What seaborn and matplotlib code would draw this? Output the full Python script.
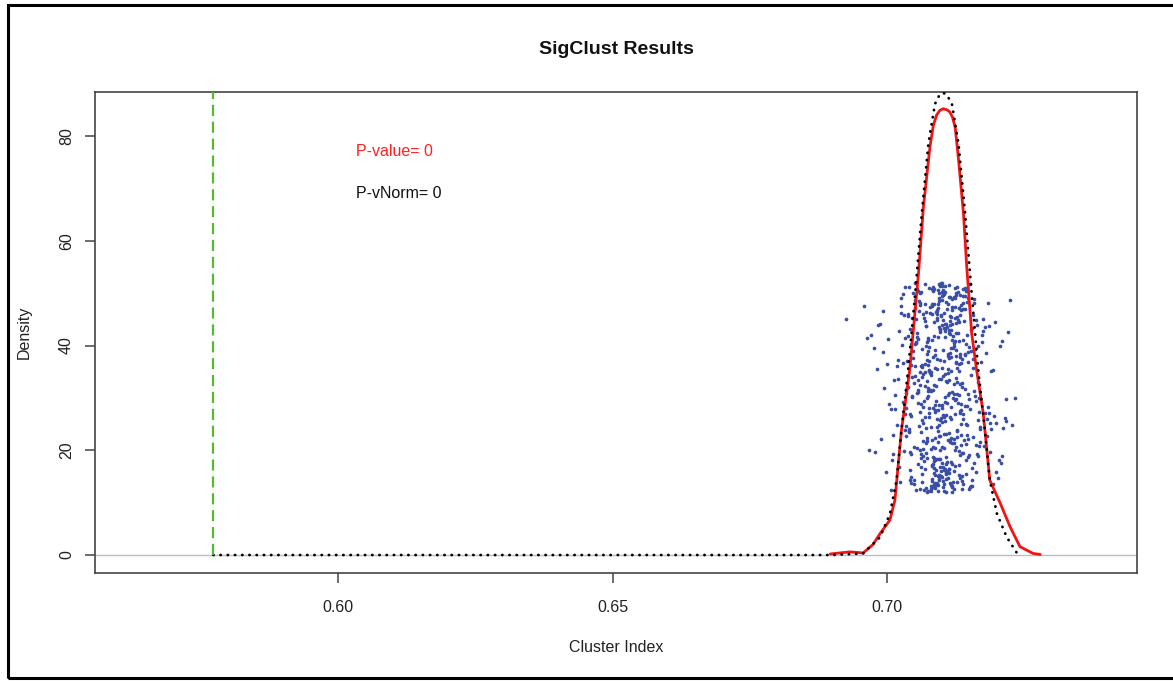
import matplotlib
matplotlib.use("Agg")
import matplotlib.pyplot as plt
from matplotlib.patches import Rectangle
import seaborn as sns
import numpy as np

# ---------------- data ----------------
observed_index = 0.5772

# simulated cluster indices (x) with vertical jitter (y)
sim_x = [
    0.7102, 0.7085, 0.7131, 0.7067, 0.7119, 0.7094, 0.7150, 0.7041, 0.7108, 0.7076, 0.7123, 0.7099, 0.7058, 0.7137, 0.7113, 0.7089, 0.7172, 0.7031, 0.7105, 0.7081,
    0.7127, 0.7063, 0.7096, 0.7144, 0.7072, 0.7110, 0.7049, 0.7118, 0.7091, 0.7160, 0.7084, 0.7036, 0.7106, 0.7129, 0.7070, 0.7099, 0.7193, 0.7053, 0.7115, 0.7088,
    0.7078, 0.7134, 0.7101, 0.7060, 0.7122, 0.7010, 0.7093, 0.7147, 0.7082, 0.7112, 0.7044, 0.7125, 0.7097, 0.7068, 0.7156, 0.7104, 0.7079, 0.7139, 0.6985, 0.7109,
    0.7090, 0.7120, 0.7055, 0.7100, 0.7141, 0.7074, 0.7116, 0.7027, 0.7095, 0.7132, 0.7086, 0.7166, 0.7061, 0.7107, 0.7083, 0.7126, 0.7047, 0.7098, 0.7211, 0.7073,
    0.7114, 0.7092, 0.7138, 0.7065, 0.7103, 0.7152, 0.7080, 0.7121, 0.7039, 0.7097, 0.7130, 0.7071, 0.7111, 0.7087, 0.7178, 0.7057, 0.7106, 0.7124, 0.7018, 0.7093,
    0.7117, 0.7077, 0.7143, 0.7100, 0.7064, 0.7128, 0.7089, 0.7161, 0.7050, 0.7112, 0.7096, 0.7135, 0.7069, 0.7104, 0.7186, 0.7084, 0.7122, 0.7043, 0.7101, 0.7145,
    0.7075, 0.7109, 0.7059, 0.7133, 0.7094, 0.7118, 0.7003, 0.7088, 0.7149, 0.7066, 0.7107, 0.7127, 0.7081, 0.7168, 0.7052, 0.7099, 0.7115, 0.7035, 0.7140, 0.7090,
    0.7123, 0.7072, 0.7103, 0.7157, 0.7062, 0.7111, 0.7085, 0.7136, 0.7046, 0.7097, 0.7203, 0.7078, 0.7119, 0.7092, 0.7131, 0.7056, 0.7108, 0.7025, 0.7082, 0.7146,
    0.7100, 0.7067, 0.7126, 0.7089, 0.7174, 0.7042, 0.7113, 0.7095, 0.7138, 0.7070, 0.7105, 0.7154, 0.7080, 0.7121, 0.6958, 0.7098, 0.7132, 0.7061, 0.7116, 0.7086,
    0.7142, 0.7054, 0.7102, 0.7125, 0.7076, 0.7191, 0.7093, 0.7110, 0.7038, 0.7129, 0.7083, 0.7148, 0.7064, 0.7106, 0.7119, 0.7012, 0.7091, 0.7135, 0.7073, 0.7163,
    0.7097, 0.7122, 0.7058, 0.7109, 0.7087, 0.7144, 0.7048, 0.7114, 0.7079, 0.7130, 0.7221, 0.7068, 0.7101, 0.7124, 0.7033, 0.7092, 0.7151, 0.7075, 0.7117, 0.7084,
    0.7108, 0.7139, 0.7063, 0.7096, 0.7170, 0.7051, 0.7120, 0.7090, 0.7133, 0.7071, 0.7104, 0.6994, 0.7081, 0.7127, 0.7060, 0.7112, 0.7158, 0.7086, 0.7099, 0.7045,
    0.7128, 0.7074, 0.7115, 0.7183, 0.7057, 0.7103, 0.7137, 0.7088, 0.7022, 0.7110, 0.7094, 0.7146, 0.7066, 0.7121, 0.7082, 0.7165, 0.7040, 0.7106, 0.7131, 0.7077,
    0.7093, 0.7118, 0.7053, 0.7140, 0.7085, 0.7102, 0.7199, 0.7069, 0.7125, 0.7096, 0.7030, 0.7113, 0.7079, 0.7153, 0.7061, 0.7107, 0.7134, 0.7089, 0.7008, 0.7116,
    0.7072, 0.7129, 0.7100, 0.7147, 0.7058, 0.7111, 0.7087, 0.7176, 0.7044, 0.7098, 0.7123, 0.7065, 0.7142, 0.7091, 0.7119, 0.7037, 0.7105, 0.7135, 0.7076, 0.7229,
    0.7114, 0.7083, 0.7136, 0.7055, 0.7101, 0.7159, 0.7073, 0.7120, 0.7095, 0.7028, 0.7132, 0.7080, 0.7109, 0.7187, 0.7062, 0.7097, 0.7126, 0.7049, 0.7143, 0.7090,
    0.7104, 0.7068, 0.7122, 0.6976, 0.7086, 0.7139, 0.7059, 0.7113, 0.7162, 0.7078, 0.7100, 0.7130, 0.7043, 0.7117, 0.7092, 0.7150, 0.7070, 0.7108, 0.7215, 0.7084,
    0.7124, 0.7063, 0.7096, 0.7145, 0.7052, 0.7110, 0.7088, 0.7134, 0.7015, 0.7103, 0.7169, 0.7075, 0.7119, 0.7099, 0.7057, 0.7128, 0.7082, 0.7155, 0.7034, 0.7106,
    0.6926, 0.7234, 0.6968, 0.7206, 0.6982, 0.7218, 0.6999, 0.7197, 0.7005, 0.7181, 0.6990, 0.7224, 0.7020, 0.7208, 0.6972, 0.7195, 0.7001, 0.7188, 0.6996, 0.7212,
    0.7098, 0.7121, 0.7066, 0.7135, 0.7087, 0.7109, 0.7048, 0.7127, 0.7093, 0.7156, 0.7074, 0.7115, 0.7082, 0.7140, 0.7060, 0.7103, 0.7131, 0.7039, 0.7118, 0.7091,
    0.7112, 0.7070, 0.7137, 0.7095, 0.7054, 0.7124, 0.7085, 0.7167, 0.7063, 0.7101, 0.7129, 0.7076, 0.7148, 0.7089, 0.7026, 0.7114, 0.7097, 0.7142, 0.7067, 0.7105,
    0.7081, 0.7133, 0.7058, 0.7119, 0.7092, 0.7152, 0.7046, 0.7107, 0.7126, 0.7073, 0.7100, 0.7179, 0.7064, 0.7116, 0.7088, 0.7138, 0.7051, 0.7110, 0.7094, 0.7123,
    0.7069, 0.7141, 0.7102, 0.7084, 0.7130, 0.7036, 0.7113, 0.7097, 0.7160, 0.7077, 0.7106, 0.7125, 0.7061, 0.7136, 0.7090, 0.7117, 0.7019, 0.7099, 0.7144, 0.7079,
    0.7120, 0.7086, 0.7149, 0.7056, 0.7108, 0.7132, 0.7071, 0.7115, 0.7093, 0.7173, 0.7045, 0.7103, 0.7128, 0.7082, 0.7139, 0.7065, 0.7111, 0.7096, 0.7154, 0.7074,
    0.7101, 0.7127, 0.7059, 0.7118, 0.7089, 0.7146, 0.7050, 0.7109, 0.7134, 0.7078, 0.7122, 0.7095, 0.7184, 0.7068, 0.7105, 0.7131, 0.7041, 0.7114, 0.7087, 0.7143,
    0.7035, 0.7162, 0.7042, 0.7158, 0.7029, 0.7170, 0.7047, 0.7153, 0.7038, 0.7166, 0.7051, 0.7149, 0.7033, 0.7161, 0.7044, 0.7175, 0.7040, 0.7157, 0.7026, 0.7164,
    0.7048, 0.7151, 0.7031, 0.7168, 0.7055, 0.7145, 0.7037, 0.7159, 0.7043, 0.7171, 0.7030, 0.7155, 0.7052, 0.7163, 0.7039, 0.7148, 0.7045, 0.7167, 0.7034, 0.7152,
    0.7012, 0.7190, 0.6988, 0.7200, 0.7016, 0.7185, 0.6979, 0.7210, 0.7007, 0.7194, 0.7021, 0.7183, 0.6993, 0.7205, 0.7014, 0.7189, 0.6965, 0.7217, 0.7023, 0.7180,
    0.7095, 0.7112, 0.7104, 0.7088, 0.7120, 0.7099, 0.7083, 0.7116, 0.7107, 0.7092, 0.7127, 0.7101, 0.7086, 0.7113, 0.7096, 0.7124, 0.7080, 0.7109, 0.7091, 0.7118,
    0.7071, 0.7134, 0.7066, 0.7139, 0.7076, 0.7129, 0.7063, 0.7136, 0.7069, 0.7142, 0.7074, 0.7131, 0.7060, 0.7137, 0.7072, 0.7127, 0.7065, 0.7140, 0.7078, 0.7133,
]
sim_y = [
    34.2, 18.7, 47.1, 25.3, 12.9, 41.6, 29.8, 51.2, 15.4, 38.9, 22.1, 45.7, 31.5, 14.2, 49.3, 27.6, 36.8, 19.9, 43.4, 24.5,
    50.1, 16.8, 33.7, 40.2, 21.4, 46.9, 13.6, 28.3, 37.5, 48.8, 17.3, 30.9, 42.7, 23.8, 51.7, 26.1, 35.4, 12.4, 44.6, 20.5,
    39.7, 27.2, 14.9, 47.8, 32.6, 18.1, 50.6, 24.9, 41.1, 15.8, 36.3, 45.2, 22.7, 29.4, 13.1, 49.9, 34.8, 19.4, 43.9, 26.8,
    16.2, 44.1, 31.0, 52.0, 21.9, 37.2, 13.8, 46.3, 28.7, 40.8, 17.9, 33.1, 48.2, 25.6, 14.6, 42.3, 30.2, 51.4, 19.0, 38.4,
    23.3, 46.0, 15.1, 35.9, 49.6, 27.9, 12.6, 41.9, 32.0, 18.4, 44.9, 24.2, 38.0, 50.8, 20.8, 29.1, 16.5, 47.4, 36.1, 13.4,
    42.9, 26.4, 51.0, 17.6, 33.9, 45.5, 22.4, 39.3, 14.4, 30.6, 48.5, 21.1, 35.0, 12.2, 43.7, 28.0, 40.5, 19.6, 50.3, 25.0,
    31.8, 15.6, 46.6, 37.9, 23.6, 13.3, 41.3, 27.4, 49.0, 18.9, 34.5, 44.3, 20.2, 29.9, 51.9, 16.0, 38.6, 24.7, 47.0, 32.3,
    12.7, 40.0, 26.7, 45.9, 19.2, 35.6, 50.4, 22.9, 30.4, 43.1, 14.8, 37.0, 48.9, 25.9, 17.1, 41.7, 33.3, 13.9, 46.1, 28.5,
    49.5, 21.7, 36.6, 15.3, 42.0, 27.0, 51.5, 18.3, 32.9, 44.7, 23.1, 39.0, 12.3, 30.0, 47.6, 20.0, 35.2, 50.0, 26.3, 16.6,
    38.2, 45.0, 13.0, 29.6, 41.4, 24.0, 48.0, 17.7, 34.0, 51.1, 22.0, 36.9, 14.0, 43.2, 31.2, 19.3, 46.8, 27.7, 40.6, 15.9,
    25.8, 49.2, 33.5, 12.1, 44.4, 21.2, 37.7, 16.4, 47.3, 29.0, 42.5, 18.0, 35.8, 50.9, 23.9, 13.7, 39.8, 31.4, 45.4, 20.7,
    14.5, 41.0, 28.9, 51.8, 24.4, 36.0, 17.4, 46.4, 32.7, 43.8, 20.4, 38.7, 13.2, 49.7, 27.3, 34.7, 22.6, 47.9, 15.0, 40.3,
    30.7, 18.6, 45.6, 26.0, 50.5, 16.9, 37.4, 12.8, 42.8, 33.0, 21.6, 48.4, 28.2, 39.5, 14.1, 44.0, 24.1, 51.3, 19.8, 35.3,
    47.2, 22.3, 40.7, 13.5, 31.6, 49.8, 25.2, 36.4, 17.0, 43.5, 29.3, 15.7, 46.2, 34.3, 20.1, 50.2, 27.5, 38.1, 12.5, 42.2,
    19.5, 35.7, 48.6, 23.0, 41.2, 14.7, 32.4, 45.1, 26.6, 51.6, 16.1, 39.4, 28.4, 44.8, 21.3, 37.1, 13.6, 47.7, 30.3, 24.8,
    43.0, 17.2, 36.7, 50.7, 25.4, 31.3, 12.0, 46.7, 22.8, 40.1, 15.2, 34.9, 48.3, 27.1, 18.5, 42.6, 33.8, 20.6, 49.4, 29.5,
    16.3, 45.3, 30.8, 39.6, 13.4, 48.1, 24.6, 37.6, 21.0, 51.0, 28.1, 42.4, 14.3, 35.1, 46.5, 19.1, 32.2, 44.2, 26.2, 12.9,
    40.9, 23.4, 49.1, 15.5, 34.1, 43.6, 18.2, 38.3, 27.8, 50.6, 20.9, 36.2, 13.1, 45.8, 31.1, 22.5, 47.5, 16.7, 41.5, 29.2,
    45.0, 30.0, 20.0, 40.0, 35.5, 25.5, 15.8, 44.5, 28.8, 38.5, 22.2, 48.7, 33.6, 17.5, 42.1, 26.5, 36.5, 19.7, 31.9, 24.3,
    37.3, 13.9, 46.0, 25.1, 41.8, 18.8, 50.1, 29.7, 15.0, 43.3, 33.2, 21.5, 48.0, 27.0, 12.6, 39.1, 30.5, 45.7, 17.8, 35.5,
    22.0, 47.9, 32.1, 14.6, 40.4, 26.9, 51.2, 19.0, 36.0, 44.0, 23.7, 12.3, 38.8, 28.6, 49.0, 16.4, 42.9, 31.7, 20.3, 46.3,
    34.4, 49.6, 17.3, 41.1, 24.4, 13.0, 45.2, 30.1, 38.0, 21.8, 51.4, 27.2, 15.4, 43.9, 35.8, 19.5, 47.1, 29.0, 12.2, 40.0,
    26.3, 44.6, 14.1, 37.8, 50.3, 22.7, 33.4, 16.9, 48.2, 28.0, 41.6, 20.0, 35.0, 46.8, 13.3, 39.6, 24.9, 51.9, 18.1, 31.5,
    47.4, 15.6, 30.7, 42.3, 23.2, 36.5, 12.8, 49.3, 27.6, 40.6, 19.2, 44.9, 33.0, 17.0, 50.8, 25.7, 38.4, 14.3, 43.0, 29.9,
    20.6, 39.2, 48.5, 26.0, 13.7, 42.0, 32.8, 16.1, 45.9, 35.2, 21.4, 50.0, 28.3, 12.4, 37.0, 44.4, 23.5, 31.0, 18.6, 47.0,
    28.1, 44.9, 16.2, 37.4, 49.8, 21.5, 33.9, 13.2, 46.1, 25.7, 40.3, 18.8, 51.1, 30.4, 14.9, 42.7, 23.6, 35.8, 47.5, 19.3,
    38.9, 12.6, 45.8, 27.3, 20.4, 50.5, 31.8, 17.6, 43.2, 24.1, 36.6, 14.4, 48.7, 29.5, 41.9, 22.2, 13.8, 39.9, 26.9, 51.8,
    23.0, 35.1, 44.2, 15.9, 30.6, 48.1, 19.7, 40.8, 27.9, 13.5, 37.2, 22.8, 46.6, 18.2, 33.4, 25.3, 41.4, 29.8, 16.8, 43.6,
    15.3, 47.9, 26.4, 39.2, 12.1, 33.6, 50.7, 21.9, 44.1, 18.4, 36.9, 28.6, 13.6, 42.4, 24.8, 49.1, 31.3, 17.4, 45.3, 37.8,
    46.4, 19.1, 34.6, 25.9, 41.0, 13.9, 50.3, 28.9, 16.5, 38.3, 22.4, 47.2, 32.5, 12.7, 43.8, 20.6, 36.2, 49.4, 27.1, 14.8,
]

# kernel density of the simulated indices (red)
dens_x = [0.6897, 0.6915, 0.6933, 0.6957, 0.6975, 0.6988, 0.7006, 0.7015, 0.7027, 0.7042, 0.7058,
          0.7067, 0.7079, 0.7085, 0.7091, 0.7097, 0.7103, 0.7110, 0.7115, 0.7120, 0.7125, 0.7131,
          0.7140, 0.7146, 0.7155, 0.7164, 0.7176, 0.7188, 0.7207, 0.7225, 0.7243, 0.7267, 0.7280]
dens_y = [0.2, 0.4, 0.6, 0.4, 2.0, 4.1, 6.7, 10.5, 23.9, 35.3, 53.8,
          66.5, 78.0, 82.0, 84.0, 84.9, 85.2, 85.0, 84.6, 83.6, 81.6, 75.5,
          65.2, 55.0, 42.3, 35.3, 27.1, 14.3, 9.9, 5.4, 1.6, 0.3, 0.1]

# fitted normal density (black dotted)
norm_x = [observed_index, 0.6200, 0.6600, 0.6900, 0.6957, 0.6988, 0.7006, 0.7018, 0.7027, 0.7039,
          0.7052, 0.7064, 0.7076, 0.7088, 0.7097, 0.7103, 0.7109, 0.7119, 0.7131,
          0.7143, 0.7155, 0.7167, 0.7179, 0.7188, 0.7201, 0.7219, 0.7238]
norm_y = [0.0, 0.0, 0.0, 0.0, 0.3, 3.4, 7.9, 14.3, 23.9, 35.3,
          49.9, 65.2, 78.5, 86.1, 88.0, 88.2, 88.0, 86.1, 78.5,
          65.2, 49.9, 35.3, 23.9, 14.3, 7.9, 3.4, 0.3]

x_ticks = [0.60, 0.65, 0.70]
x_tick_labels = ["0.60", "0.65", "0.70"]
y_ticks = [0, 20, 40, 60, 80]
y_tick_labels = ["0", "20", "40", "60", "80"]

p_value_text = "P-value= 0"
p_vnorm_text = "P-vNorm= 0"

# ---------------- style ----------------
sns.set_theme(style="white")
plt.rcParams["font.family"] = ["Liberation Sans", "DejaVu Sans"]

W, H = 1173, 681
fig = plt.figure(figsize=(W / 100, H / 100), dpi=100)
fig.patch.set_facecolor("white")

ax_l, ax_r, ax_t, ax_b = 95, 1137.3, 92, 573.3
ax = fig.add_axes([ax_l / W, (H - ax_b) / H, (ax_r - ax_l) / W, (ax_b - ax_t) / H])
ax.set_facecolor("white")

n = min(len(sim_x), len(sim_y))
ax.axhline(0, color="#bdbdbd", lw=1.0, zorder=1)

sns.scatterplot(x=sim_x[:n], y=sim_y[:n], ax=ax, color="#3a4ea6", s=7,
                marker="o", linewidth=0, zorder=2, legend=False)
sns.lineplot(x=dens_x, y=dens_y, ax=ax, color="#f01414", lw=2.0, sort=False,
             estimator=None, zorder=3)
ln = sns.lineplot(x=norm_x, y=norm_y, ax=ax, color="black", lw=2.0, sort=False,
                  estimator=None, zorder=4).lines[-1]
ln.set_linestyle((0, (0.1, 2.5)))
ln.set_dash_capstyle("round")

ylim = (-3.49, 88.4)
xlim = (0.55563, 0.7457)
ax.set_xlim(*xlim)
ax.set_ylim(*ylim)
frac0 = (0 - ylim[0]) / (ylim[1] - ylim[0])
ax.axvline(observed_index, ymin=frac0, ymax=1, color="#55b932", lw=1.6,
           linestyle=(0, (5, 2.6)), zorder=5)

ax.text(0.6032, 77.1, p_value_text, color="#ff2020", fontsize=11.5, ha="left", va="center")
ax.text(0.6032, 69.1, p_vnorm_text, color="#111111", fontsize=11.5, ha="left", va="center")

for s in ax.spines.values():
    s.set_visible(True)
    s.set_color("#444444")
    s.set_linewidth(1.2)

ax.set_xticks(x_ticks)
ax.set_xticklabels(x_tick_labels)
ax.set_yticks(y_ticks)
ax.set_yticklabels(y_tick_labels, rotation=90, va="center")
ax.tick_params(axis="both", direction="out", length=7.2, width=1.1, color="#444444",
               labelsize=11.5, labelcolor="#222222", bottom=True, left=True)
ax.tick_params(axis="x", pad=12)
ax.tick_params(axis="y", pad=8)
ax.grid(False)

ax.set_xlabel("Cluster Index", fontsize=11.5, color="#222222")
ax.set_ylabel("Density", fontsize=11.5, color="#222222")
ax.xaxis.set_label_coords(0.5, (ax_b - 640) / (ax_b - ax_t))
ax.yaxis.set_label_coords((32 - ax_l) / (ax_r - ax_l), 0.5)

fig.text((ax_l + ax_r) / 2 / W, 1 - 50 / H, "SigClust Results", fontsize=14,
         fontweight="bold", ha="center", va="center", color="#111111")

fig.patches.append(Rectangle((8 / W, 3 / H), 1.2, (676 - 3) / H, transform=fig.transFigure,
                             fill=False, lw=2.2, ec="black"))

fig.savefig("out.png", dpi=100)
